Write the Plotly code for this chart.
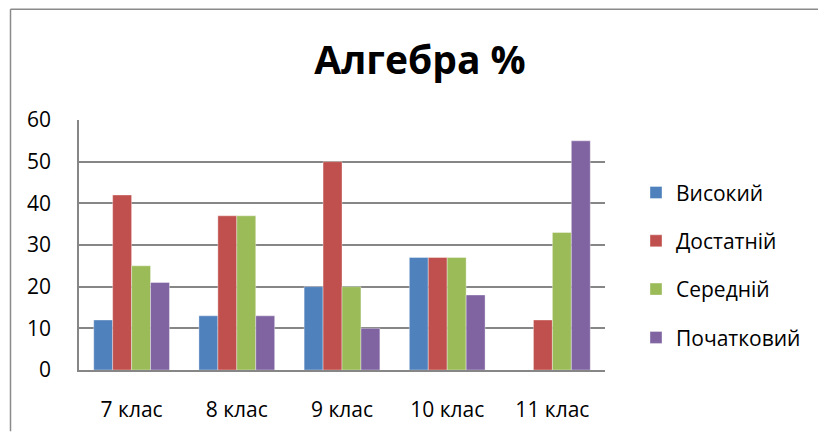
import plotly.graph_objects as go

categories = ["7 клас", "8 клас", "9 клас", "10 клас", "11 клас"]
vysokyi = [12, 13, 20, 27, 0]
dostatnii = [42, 37, 50, 27, 12]
serednii = [25, 37, 20, 27, 33]
pochatkovyi = [21, 13, 10, 18, 55]

series = [
    ("Високий", vysokyi, "#4F81BD"),
    ("Достатній", dostatnii, "#C0504D"),
    ("Середній", serednii, "#9BBB59"),
    ("Початковий", pochatkovyi, "#8064A2"),
]

W, H = 818, 435
L, R, T, B = 79, 213, 120, 62
pw, ph = W - L - R, H - T - B

fig = go.Figure()
for i, (name, vals, col) in enumerate(series):
    fig.add_trace(go.Bar(
        x=categories, y=vals, name=name, legendgroup=f"g{i}",
        marker=dict(color=col, line=dict(color="rgba(255,255,255,0.6)", width=0.6)),
    ))

font = "Open Sans, Noto Sans, DejaVu Sans, sans-serif"

def px_x(px):
    return (px - L) / pw

def px_y(py):
    return (H - B - py) / ph

fig.update_layout(
    width=W, height=H,
    margin=dict(l=L, r=R, t=T, b=B),
    paper_bgcolor="white", plot_bgcolor="white",
    barmode="group", bargap=0.28, bargroupgap=0,
    font=dict(family=font, color="black", size=21),
    title=dict(text="<b>Алгебра %</b>", x=px_x(420), xref="paper", xanchor="center",
               y=1 - 60 / H, yanchor="middle", font=dict(size=39, family=font, color="black")),
    xaxis=dict(showgrid=False, showline=True, linecolor="#868686", linewidth=2,
               ticks="", tickfont=dict(size=21), ticklabelstandoff=20, fixedrange=True),
    yaxis=dict(range=[0, 60], dtick=10, showgrid=True, gridcolor="#868686", gridwidth=1.5,
               showline=True, linecolor="#868686", linewidth=1.5, ticks="",
               tickfont=dict(size=21), ticklabelstandoff=22, zeroline=False),
    legend=dict(x=px_x(636), y=px_y(173), xanchor="left", yanchor="top",
                font=dict(size=21), traceorder="grouped", tracegroupgap=18,
                itemwidth=30, bgcolor="rgba(0,0,0,0)"),
    showlegend=True,
)

# outer chart frame (top and left edges visible)
fig.add_shape(type="line", xref="paper", yref="paper",
              x0=px_x(10.5), y0=px_y(8), x1=px_x(818), y1=px_y(8),
              line=dict(color="#8a8a8a", width=1.5))
fig.add_shape(type="line", xref="paper", yref="paper",
              x0=px_x(10.5), y0=px_y(8), x1=px_x(10.5), y1=px_y(435),
              line=dict(color="#8a8a8a", width=1.5))

fig.write_html("out.html", config={"displayModeBar": False},
               post_script="document.body.style.margin='0';")
